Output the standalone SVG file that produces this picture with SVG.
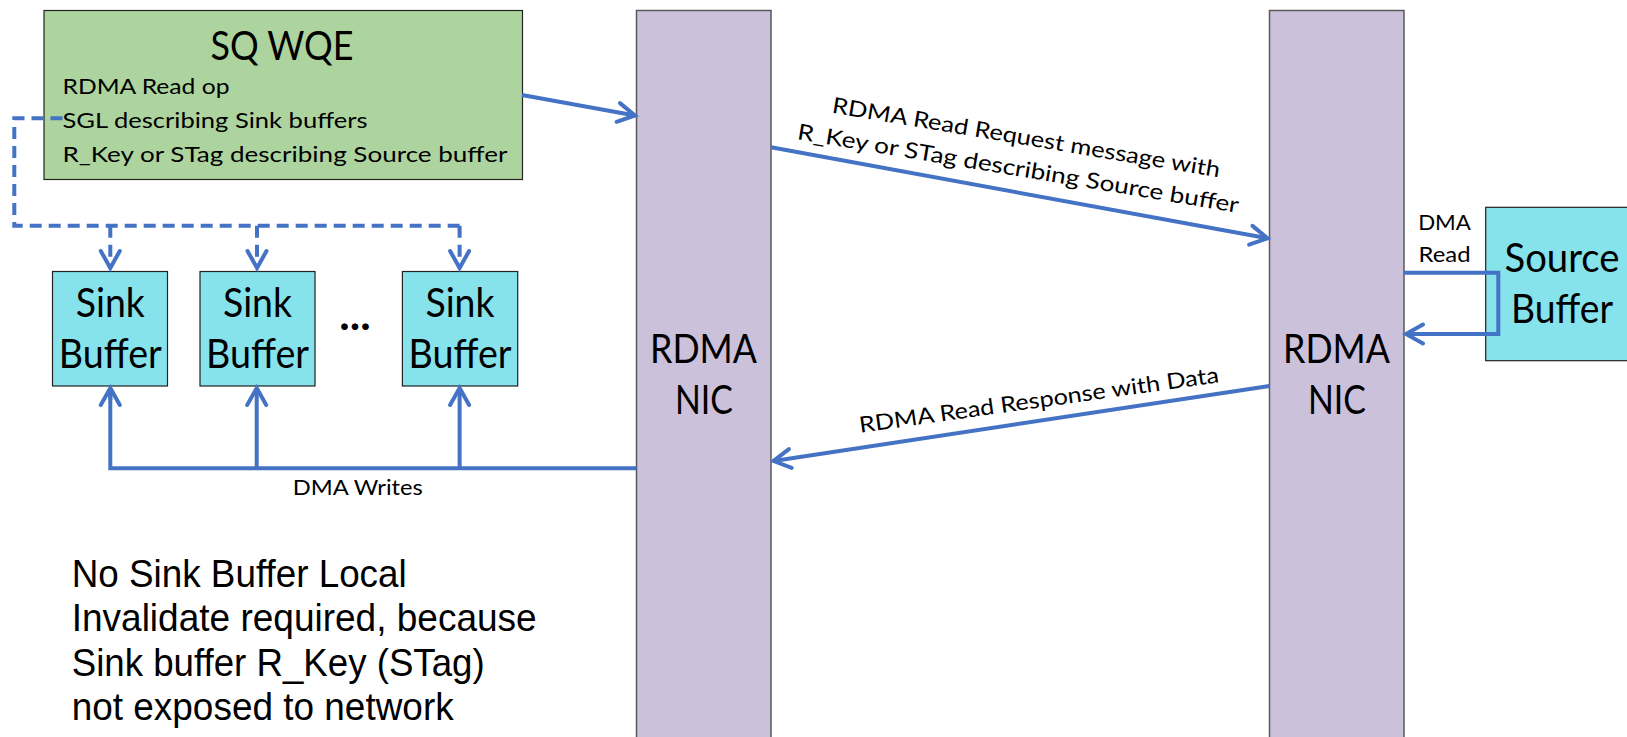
<svg xmlns="http://www.w3.org/2000/svg" width="1627" height="737" viewBox="0 0 1627 737">
  <style>
    .cal { font-family: Lato, "Open Sans", "Liberation Sans", sans-serif; fill: #000; }
    .ari { font-family: "Liberation Sans", Arial, sans-serif; fill: #000; }
    .wqe { fill: #ADD49E; stroke: #222; stroke-width: 1.2; }
    .buf { fill: #86E2EB; stroke: #222; stroke-width: 1.2; }
    .nic { fill: #CCC1DA; stroke: #595959; stroke-width: 1.5; }
    .wire { fill: none; stroke: #4472C4; stroke-width: 4; }
    .dash { stroke-dasharray: 12 7; }
  </style>
  <defs>
    <marker id="open" viewBox="-22 -14 26 28" refX="0" refY="0" markerWidth="26" markerHeight="28" markerUnits="userSpaceOnUse" orient="auto">
      <path d="M-17,-9.5 L0,0 L-17,9.5" fill="none" stroke="#4472C4" stroke-width="4" stroke-linecap="round" stroke-linejoin="miter"/>
    </marker>
  </defs>

  <rect width="1627" height="737" fill="#fff"/>

  <!-- network adapters -->
  <g id="nic-local">
    <rect class="nic" x="636.5" y="10.5" width="134.5" height="740"/>
    <text class="cal" x="703.5" y="363" font-size="40" text-anchor="middle" textLength="107" lengthAdjust="spacingAndGlyphs">RDMA</text>
    <text class="cal" x="704" y="413.5" font-size="40" text-anchor="middle" textLength="58" lengthAdjust="spacingAndGlyphs">NIC</text>
  </g>
  <g id="nic-remote">
    <rect class="nic" x="1269.5" y="10.5" width="134.5" height="740"/>
    <text class="cal" x="1336.5" y="363" font-size="40" text-anchor="middle" textLength="107" lengthAdjust="spacingAndGlyphs">RDMA</text>
    <text class="cal" x="1337" y="413.5" font-size="40" text-anchor="middle" textLength="58" lengthAdjust="spacingAndGlyphs">NIC</text>
  </g>

  <!-- work queue element -->
  <g id="sq-wqe">
    <rect class="wqe" x="44" y="10.5" width="478.5" height="169"/>
    <text class="cal" x="282" y="60" font-size="40" text-anchor="middle" textLength="143" lengthAdjust="spacingAndGlyphs">SQ WQE</text>
    <text class="cal" x="62.5" y="94.3" font-size="22" textLength="167" lengthAdjust="spacingAndGlyphs">RDMA Read op</text>
    <text class="cal" x="62.5" y="127.7" font-size="22" textLength="305" lengthAdjust="spacingAndGlyphs">SGL describing Sink buffers</text>
    <text class="cal" x="62.5" y="161.7" font-size="22" textLength="445" lengthAdjust="spacingAndGlyphs">R_Key or STag describing Source buffer</text>
  </g>

  <!-- sink buffers -->
  <g id="sink-1">
    <rect class="buf" x="52.5" y="271.5" width="115" height="114.5"/>
    <text class="cal" x="110.3" y="317" font-size="40" text-anchor="middle" textLength="69" lengthAdjust="spacingAndGlyphs">Sink</text>
    <text class="cal" x="110.3" y="368" font-size="40" text-anchor="middle" textLength="103" lengthAdjust="spacingAndGlyphs">Buffer</text>
  </g>
  <g id="sink-2">
    <rect class="buf" x="200" y="271.5" width="115" height="114.5"/>
    <text class="cal" x="257.5" y="317" font-size="40" text-anchor="middle" textLength="69" lengthAdjust="spacingAndGlyphs">Sink</text>
    <text class="cal" x="257.5" y="368" font-size="40" text-anchor="middle" textLength="103" lengthAdjust="spacingAndGlyphs">Buffer</text>
  </g>
  <text id="ellipsis" class="cal" x="355" y="330" font-size="44" font-weight="bold" text-anchor="middle">...</text>
  <g id="sink-3">
    <rect class="buf" x="402.4" y="271.5" width="115.3" height="114.5"/>
    <text class="cal" x="460" y="317" font-size="40" text-anchor="middle" textLength="69" lengthAdjust="spacingAndGlyphs">Sink</text>
    <text class="cal" x="460" y="368" font-size="40" text-anchor="middle" textLength="103" lengthAdjust="spacingAndGlyphs">Buffer</text>
  </g>

  <!-- source buffer -->
  <g id="source">
    <rect class="buf" x="1485.7" y="207.3" width="150" height="153.4"/>
    <text class="cal" x="1562" y="271.7" font-size="40" text-anchor="middle" textLength="115" lengthAdjust="spacingAndGlyphs">Source</text>
    <text class="cal" x="1562" y="323.3" font-size="40" text-anchor="middle" textLength="102" lengthAdjust="spacingAndGlyphs">Buffer</text>
  </g>

  <!-- connectors -->
  <g id="connectors">
    <path class="wire dash" d="M62.5,118.3 H14.3 V225.7 H459.6"/>
    <path class="wire dash" d="M110.3,225.7 V268" marker-end="url(#open)"/>
    <path class="wire dash" d="M257,225.7 V268" marker-end="url(#open)"/>
    <path class="wire dash" d="M459.6,225.7 V268" marker-end="url(#open)"/>

    <path class="wire" d="M522,95 L635,115.5" marker-end="url(#open)"/>
    <path class="wire" d="M771,147.3 L1267.5,238.3" marker-end="url(#open)"/>
    <path class="wire" d="M1269.5,386 L773.5,461" marker-end="url(#open)"/>

    <path class="wire" d="M636.5,468.3 H110.3 V388"/>
    <path class="wire" d="M110.3,400 V388" marker-end="url(#open)"/>
    <path class="wire" d="M256.7,468.3 V388" marker-end="url(#open)"/>
    <path class="wire" d="M459.6,468.3 V388" marker-end="url(#open)"/>

    <path class="wire" d="M1404,272.7 H1498.3 V334 H1406" marker-end="url(#open)"/>
  </g>

  <!-- connector labels -->
  <g id="labels">
    <text class="cal" transform="translate(1025,145) rotate(9.5)" font-size="22" text-anchor="middle" textLength="393" lengthAdjust="spacingAndGlyphs">RDMA Read Request message with</text>
    <text class="cal" transform="translate(1017,176) rotate(9.5)" font-size="22" text-anchor="middle" textLength="447" lengthAdjust="spacingAndGlyphs">R_Key or STag describing Source buffer</text>
    <text class="cal" transform="translate(1040,407.5) rotate(-8)" font-size="22" text-anchor="middle" textLength="363" lengthAdjust="spacingAndGlyphs">RDMA Read Response with Data</text>
    <text class="cal" x="357.8" y="495" font-size="21" text-anchor="middle" textLength="130" lengthAdjust="spacingAndGlyphs">DMA Writes</text>
    <text class="cal" x="1444.5" y="230" font-size="21" text-anchor="middle" textLength="52.7" lengthAdjust="spacingAndGlyphs">DMA</text>
    <text class="cal" x="1444.5" y="261.7" font-size="21" text-anchor="middle" textLength="52" lengthAdjust="spacingAndGlyphs">Read</text>
  </g>

  <!-- note -->
  <g id="note" class="ari" font-size="39">
    <text x="71.7" y="587" textLength="335" lengthAdjust="spacingAndGlyphs">No Sink Buffer Local</text>
    <text x="71.7" y="631.3" textLength="465" lengthAdjust="spacingAndGlyphs">Invalidate required, because</text>
    <text x="71.7" y="675.6" textLength="413" lengthAdjust="spacingAndGlyphs">Sink buffer R_Key (STag)</text>
    <text x="71.7" y="719.9" textLength="382" lengthAdjust="spacingAndGlyphs">not exposed to network</text>
  </g>
</svg>
